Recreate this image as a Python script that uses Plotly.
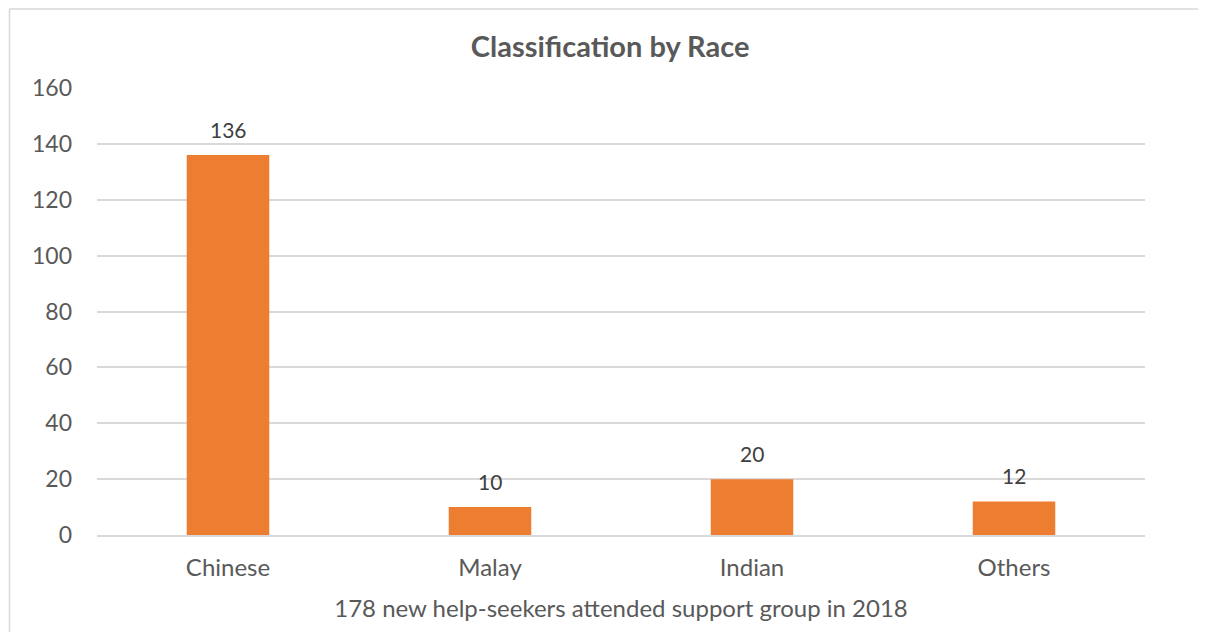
import plotly.graph_objects as go

# data
races = ["Chinese", "Malay", "Indian", "Others"]
counts = [136, 10, 20, 12]
y_ticks = [0, 20, 40, 60, 80, 100, 120, 140, 160]

TEXT = "#595959"
FONT = "Lato, Calibri, sans-serif"
BORDER = "#D9D9D9"

fig = go.Figure()
fig.add_trace(go.Bar(
    x=races, y=counts,
    marker=dict(color="#ED7D31", line=dict(width=0)),
))

# value labels sit a bit higher above the bars than plotly's "outside" text
for r, c in zip(races, counts):
    fig.add_annotation(x=r, y=c, text=str(c), showarrow=False,
                       yanchor="middle", yshift=26,
                       font=dict(size=21, color="#404040", family=FONT))

# chart frame: only the top and left edges fall inside the picture
frame = [
    dict(type="line", xref="paper", yref="paper", x0=-0.0835, x1=1.2, y0=1.1765, y1=1.1765,
         line=dict(color=BORDER, width=1.5)),
    dict(type="line", xref="paper", yref="paper", x0=-0.0835, x1=-0.0835, y0=-0.3, y1=1.1765,
         line=dict(color=BORDER, width=1.5)),
]

# page has an 8px body margin, so keep the figure inside the window
fig.update_layout(
    width=1190, height=624,
    margin=dict(l=89, r=53, t=80, b=97),
    paper_bgcolor="white", plot_bgcolor="white",
    font=dict(family=FONT, color=TEXT),
    bargap=0.685,
    showlegend=False,
    title=dict(text="<b>Classification by Race</b>", x=0.506, xanchor="center",
               y=1 - 39 / 624, yanchor="middle", font=dict(size=29, color=TEXT)),
    xaxis=dict(
        title=dict(text="178 new help-seekers attended support group in 2018",
                   font=dict(size=24, color=TEXT), standoff=20),
        tickfont=dict(size=24, color=TEXT),
        showline=True, linecolor=BORDER, linewidth=2,
        ticks="", showgrid=False, ticklabelstandoff=10,
    ),
    yaxis=dict(
        range=[0, 160], tickvals=y_ticks,
        tickfont=dict(size=23, color=TEXT),
        showgrid=True, gridcolor=BORDER, gridwidth=1.5,
        zeroline=False, showline=False, ticks="", ticklabelstandoff=24,
    ),
    shapes=frame,
)

fig.write_html("out.html")
